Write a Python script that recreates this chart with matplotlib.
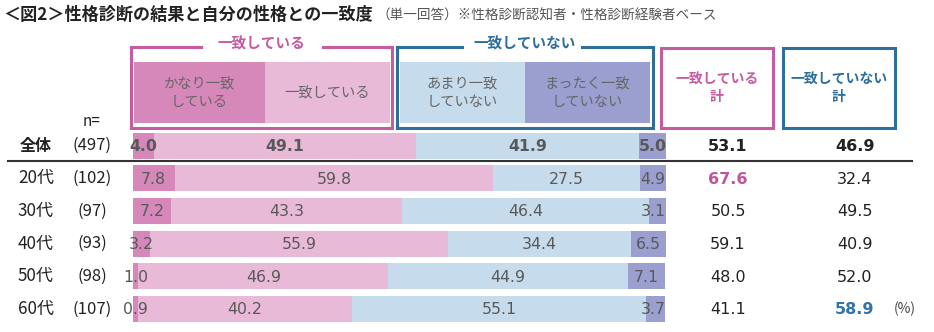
import matplotlib.pyplot as plt
from matplotlib.patches import Rectangle

plt.rcParams['font.family'] = ['Noto Sans CJK JP', 'DejaVu Sans']

# data
groups = ['全体', '20代', '30代', '40代', '50代', '60代']
n_labels = ['(497)', '(102)', '(97)', '(93)', '(98)', '(107)']
very_agree = [4.0, 7.8, 7.2, 3.2, 1.0, 0.9]
agree = [49.1, 59.8, 43.3, 55.9, 46.9, 40.2]
not_much = [41.9, 27.5, 46.4, 34.4, 44.9, 55.1]
not_at_all = [5.0, 4.9, 3.1, 6.5, 7.1, 3.7]
total_agree = [53.1, 67.6, 50.5, 59.1, 48.0, 41.1]
total_disagree = [46.9, 32.4, 49.5, 40.9, 52.0, 58.9]
seg_names = ['かなり一致\nしている', '一致している', 'あまり一致\nしていない', 'まったく一致\nしていない']

colors = ['#d688ba', '#e9bad7', '#c6dcec', '#9b9fcf']
pink = '#c65c9f'
blue = '#2f6e9b'
txt = '#595959'

W, H = 934, 332
fig = plt.figure(figsize=(W / 100, H / 100), dpi=100)

# overlay in pixel coordinates
ov = fig.add_axes([0, 0, 1, 1])
ov.set_xlim(0, W)
ov.set_ylim(H, 0)
ov.axis('off')

# bar axes: x 0..100 maps to pixel 133..666
bx0, bx1 = 133, 666
ax = fig.add_axes([bx0 / W, 0, (bx1 - bx0) / W, 1])
ax.set_xlim(0, 100)
ax.set_ylim(H, 0)
ax.axis('off')

row_y = [145.5 + 32.7 * i for i in range(len(groups))]
bar_h = 26

series = [very_agree, agree, not_much, not_at_all]
left = [0.0] * len(groups)
for s, vals in enumerate(series):
    ax.barh(row_y, vals, left=left, height=bar_h, color=colors[s], linewidth=0)
    for i, v in enumerate(vals):
        cx = left[i] + v / 2
        if s == 3:
            cx = min(cx, 100 - 2.4)
        ax.text(cx, row_y[i] + 1, f'{v:.1f}', ha='center', va='center',
                fontsize=11.3, color=txt, family='DejaVu Sans',
                fontweight='bold' if i == 0 else 'normal')
    left = [l + v for l, v in zip(left, vals)]

# title
ov.text(3, 15, '＜図2＞性格診断の結果と自分の性格との一致度', fontsize=12.3,
        fontweight='bold', va='center', ha='left', color='#222222')
ov.text(376, 16, '（単一回答）※性格診断認知者・性格診断経験者ベース', fontsize=9.8,
        va='center', ha='left', color='#555555')

# header cells
cells = [(134, 265), (265, 390), (400, 525), (525, 650)]
for (x0, x1), c, name in zip(cells, colors, seg_names):
    ov.add_patch(Rectangle((x0, 62), x1 - x0, 61, color=c, lw=0))
    ov.text((x0 + x1) / 2, 93, name, ha='center', va='center', fontsize=10.3,
            color='#666666', linespacing=1.3)

# group boxes
for (x0, x1), col, label, gap in [((131, 392), pink, '一致している', (201, 323)),
                                  ((397, 653), blue, '一致していない', (462, 582))]:
    y0, y1 = 47, 128
    kw = dict(color=col, lw=2.2, solid_capstyle='projecting')
    ov.plot([x0, gap[0]], [y0, y0], **kw)
    ov.plot([gap[1], x1], [y0, y0], **kw)
    ov.plot([x0, x0], [y0, y1], **kw)
    ov.plot([x1, x1], [y0, y1], **kw)
    ov.plot([x0, x1], [y1, y1], **kw)
    ov.text((x0 + x1) / 2, 43, label, ha='center', va='center', fontsize=10.5,
            fontweight='bold', color=col)

# total boxes
for (x0, x1), col, label in [((661, 773), pink, '一致している\n計'),
                             ((783, 895), blue, '一致していない\n計')]:
    ov.add_patch(Rectangle((x0, 48), x1 - x0, 80, fill=False, ec=col, lw=2.2))
    ov.text((x0 + x1) / 2, 88, label, ha='center', va='center', fontsize=10,
            fontweight='bold', color=col, linespacing=1.3)

ov.text(92, 121, 'n=', ha='center', va='center', fontsize=11, color='#222222')

# row labels and totals
for i, g in enumerate(groups):
    y = row_y[i]
    bold = i == 0
    ov.text(36, y, g, ha='center', va='center', fontsize=11.5 if bold else 12.3,
            color='#222222', fontweight='bold' if bold else 'normal')
    ov.text(92, y, n_labels[i], ha='center', va='center', fontsize=12,
            color='#222222')
    ca, cd = '#222222', '#222222'
    wa, wd = ('bold', 'bold') if bold else ('normal', 'normal')
    if total_agree[i] == max(total_agree[1:]) and i > 0:
        ca, wa = '#c0559a', 'bold'
    if total_disagree[i] == max(total_disagree[1:]) and i > 0:
        cd, wd = '#2e75b0', 'bold'
    ov.text(728, y + 1, f'{total_agree[i]:.1f}', ha='center', va='center',
            fontsize=11.5, color=ca, fontweight=wa, family='DejaVu Sans')
    ov.text(855, y + 1, f'{total_disagree[i]:.1f}', ha='center', va='center',
            fontsize=11.5, color=cd, fontweight=wd, family='DejaVu Sans')

ov.text(905, row_y[-1], '(%)', ha='center', va='center', fontsize=10,
        color='#444444')

# separator under total row
ov.plot([8, 912], [161, 161], color='#333333', lw=1.5)

fig.savefig('out.png', dpi=100)
